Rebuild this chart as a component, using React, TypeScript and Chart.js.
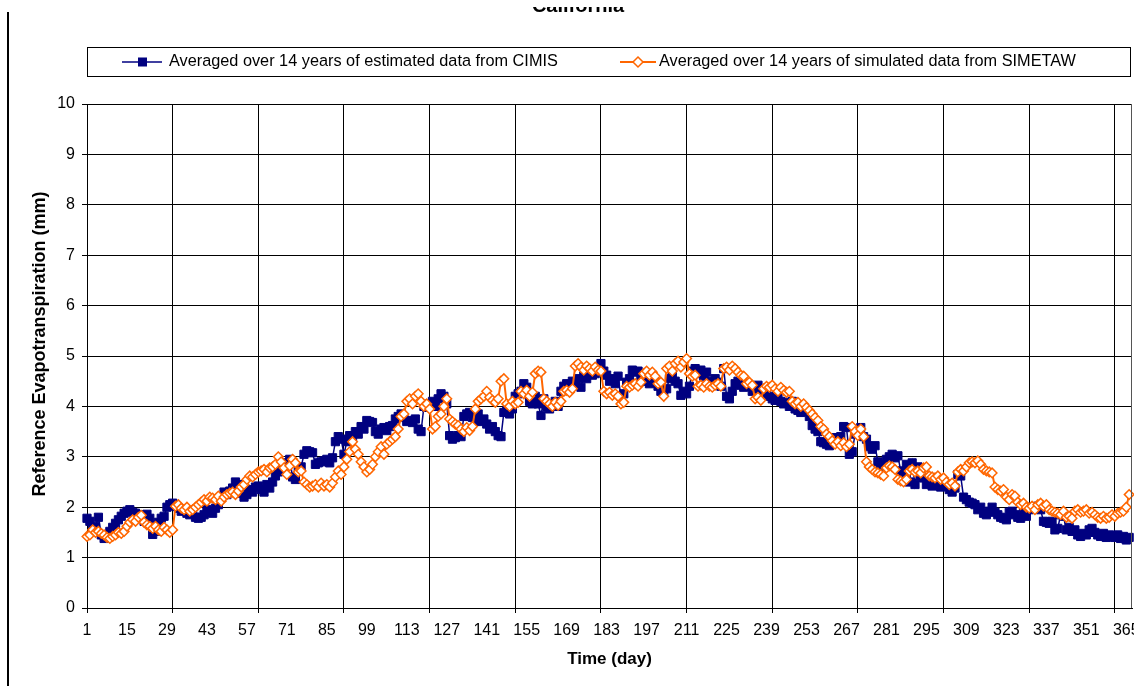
import React, { useEffect, useRef } from 'react';
import { Chart, registerables } from 'chart.js';

Chart.register(...registerables);

const chartTitle = 'California';
const seriesNames = [
  'Averaged over 14 years of estimated data from CIMIS',
  'Averaged over 14 years of simulated data from SIMETAW',
];
const xAxisTitle = 'Time (day)';
const yAxisTitle = 'Reference Evapotranspiration (mm)';

const xLabelTicks = [1, 15, 29, 43, 57, 71, 85, 99, 113, 127, 141, 155, 169, 183, 197, 211, 225, 239, 253, 267, 281, 295, 309, 323, 337, 351, 365];
const xGridTicks = [1, 31, 61, 91, 121, 151, 181, 211, 241, 271, 301, 331, 361];
const yTicks = [0, 1, 2, 3, 4, 5, 6, 7, 8, 9, 10];

const cimis = [
  1.78, 1.72, 1.58, 1.62, 1.80, 1.45, 1.38, 1.42, 1.52, 1.60,
  1.68, 1.75, 1.82, 1.88, 1.92, 1.95, 1.90, 1.88, 1.85, 1.80,
  1.72, 1.86, 1.78, 1.46, 1.52, 1.70, 1.78, 1.82, 2.00, 2.05,
  2.08, 2.02, 1.98, 1.92, 1.95, 1.88, 1.85, 1.90, 1.80, 1.78,
  1.80, 1.85, 1.95, 1.90, 1.88, 1.98, 2.05, 2.20, 2.30, 2.25,
  2.32, 2.38, 2.50, 2.45, 2.28, 2.20, 2.25, 2.35, 2.30, 2.40,
  2.42, 2.35, 2.30, 2.45, 2.38, 2.50, 2.62, 2.70, 2.78, 2.85,
  2.88, 2.95, 2.60, 2.55, 2.72, 2.80, 3.05, 3.12, 3.10, 3.08,
  2.85, 2.88, 2.90, 2.92, 2.95, 2.88, 2.98, 3.30, 3.40, 3.35,
  3.05, 3.30, 3.42, 3.38, 3.50, 3.45, 3.60, 3.55, 3.72, 3.70,
  3.68, 3.50, 3.45, 3.55, 3.58, 3.52, 3.60, 3.62, 3.75, 3.80,
  3.85, 3.78, 3.70, 3.72, 3.68, 3.75, 3.55, 3.50, 4.00, 3.98,
  4.05, 4.10, 4.00, 4.15, 4.25, 4.20, 4.05, 3.42, 3.35, 3.38,
  3.42, 3.40, 3.80, 3.85, 3.88, 3.78, 3.72, 3.85, 3.70, 3.75,
  3.65, 3.55, 3.60, 3.50, 3.42, 3.40, 3.88, 3.92, 3.85, 3.95,
  4.20, 4.25, 4.30, 4.45, 4.38, 4.10, 4.05, 4.20, 4.05, 3.82,
  4.15, 4.00, 3.95, 4.05, 4.10, 4.00, 4.30, 4.40, 4.45, 4.35,
  4.50, 4.42, 4.55, 4.38, 4.60, 4.55, 4.70, 4.62, 4.65, 4.75,
  4.85, 4.70, 4.62, 4.50, 4.55, 4.45, 4.60, 4.20, 4.25, 4.48,
  4.55, 4.72, 4.68, 4.70, 4.60, 4.50, 4.55, 4.45, 4.62, 4.48,
  4.40, 4.30, 4.28, 4.35, 4.55, 4.60, 4.50, 4.45, 4.22, 4.30,
  4.25, 4.40, 4.70, 4.75, 4.65, 4.72, 4.60, 4.68, 4.50, 4.45,
  4.55, 4.48, 4.40, 4.75, 4.20, 4.15, 4.30, 4.45, 4.50, 4.42,
  4.38, 4.45, 4.40, 4.30, 4.35, 4.42, 4.28, 4.32, 4.25, 4.20,
  4.15, 4.12, 4.18, 4.10, 4.05, 4.08, 4.00, 4.10, 3.95, 3.92,
  3.88, 3.95, 3.90, 3.80, 3.62, 3.55, 3.50, 3.30, 3.28, 3.25,
  3.22, 3.35, 3.38, 3.30, 3.40, 3.60, 3.58, 3.05, 3.10, 3.45,
  3.50, 3.58, 3.40, 3.35, 3.20, 3.15, 3.22, 2.90, 2.85, 2.80,
  2.95, 3.00, 3.05, 2.98, 3.02, 2.72, 2.68, 2.85, 2.50, 2.88,
  2.45, 2.80, 2.62, 2.58, 2.45, 2.48, 2.42, 2.50, 2.45, 2.40,
  2.48, 2.42, 2.35, 2.30, 2.38, 2.65, 2.62, 2.20, 2.15, 2.10,
  2.08, 2.05, 1.95, 2.00, 1.88, 1.85, 1.92, 2.00, 1.90, 1.85,
  1.80, 1.78, 1.75, 1.90, 1.92, 1.85, 1.80, 1.78, 1.88, 1.82,
  1.95, 2.00, 1.98, 2.02, 1.95, 1.72, 1.70, 1.68, 1.72, 1.55,
  1.58, 1.85, 1.82, 1.55, 1.60, 1.52, 1.55, 1.45, 1.42, 1.48,
  1.45, 1.55, 1.58, 1.50, 1.45, 1.42, 1.48, 1.40, 1.45, 1.42,
  1.40, 1.45, 1.38, 1.42, 1.35, 1.40,
];

const simetaw = [
  1.42, 1.45, 1.55, 1.50, 1.52, 1.48, 1.45, 1.40, 1.38, 1.42,
  1.45, 1.50, 1.48, 1.52, 1.62, 1.70, 1.75, 1.72, 1.80, 1.84,
  1.70, 1.65, 1.62, 1.58, 1.62, 1.55, 1.52, 1.60, 1.55, 1.50,
  1.55, 2.02, 2.05, 1.98, 1.95, 2.00, 1.92, 1.95, 2.00, 2.05,
  2.10, 2.15, 2.12, 2.20, 2.18, 2.15, 2.22, 2.12, 2.20, 2.25,
  2.28, 2.30, 2.25, 2.32, 2.40, 2.45, 2.55, 2.62, 2.60, 2.65,
  2.70, 2.72, 2.75, 2.70, 2.78, 2.80, 2.85, 3.00, 2.90, 2.78,
  2.65, 2.82, 2.95, 2.88, 2.70, 2.72, 2.50, 2.45, 2.40, 2.42,
  2.45, 2.40, 2.48, 2.42, 2.45, 2.40, 2.48, 2.60, 2.72, 2.65,
  2.80, 2.95, 3.10, 3.30, 3.15, 3.05, 2.90, 2.80, 2.70, 2.75,
  2.85, 3.00, 3.10, 3.20, 3.05, 3.25, 3.30, 3.35, 3.40, 3.55,
  3.80, 3.85, 4.10, 4.15, 4.05, 4.20, 4.25, 4.10, 4.00, 4.05,
  3.95, 3.55, 3.60, 3.80, 3.85, 4.00, 4.15, 3.75, 3.70, 3.65,
  3.62, 3.55, 3.50, 3.58, 3.52, 3.60, 3.95, 4.10, 4.15, 4.20,
  4.30, 4.18, 4.12, 4.08, 4.15, 4.50, 4.55, 4.05, 4.00, 4.10,
  4.05, 4.08, 4.30, 4.25, 4.32, 4.20, 4.28, 4.65, 4.70, 4.68,
  4.15, 4.10, 4.05, 4.00, 4.08, 4.02, 4.10, 4.30, 4.32, 4.28,
  4.35, 4.80, 4.85, 4.78, 4.72, 4.80, 4.75, 4.70, 4.78, 4.72,
  4.70, 4.30, 4.25, 4.28, 4.22, 4.25, 4.20, 4.05, 4.08, 4.40,
  4.38, 4.42, 4.45, 4.40, 4.48, 4.65, 4.70, 4.62, 4.68, 4.60,
  4.45, 4.48, 4.20, 4.75, 4.80, 4.70, 4.85, 4.90, 4.78, 4.88,
  4.95, 4.65, 4.60, 4.62, 4.40, 4.42, 4.38, 4.45, 4.40, 4.38,
  4.42, 4.45, 4.40, 4.75, 4.78, 4.72, 4.80, 4.75, 4.68, 4.62,
  4.60, 4.45, 4.48, 4.42, 4.15, 4.18, 4.12, 4.35, 4.40, 4.38,
  4.42, 4.35, 4.30, 4.38, 4.32, 4.28, 4.30, 4.10, 4.05, 4.08,
  4.00, 4.05, 3.98, 3.92, 3.85, 3.78, 3.72, 3.60, 3.55, 3.45,
  3.40, 3.32, 3.25, 3.30, 3.22, 3.28, 3.20, 3.25, 3.60, 3.50,
  3.42, 3.55, 3.40, 2.90, 2.80, 2.75, 2.70, 2.68, 2.65, 2.62,
  2.78, 2.82, 2.80, 2.75, 2.55, 2.52, 2.50, 2.55, 2.72, 2.75,
  2.70, 2.72, 2.68, 2.78, 2.80, 2.62, 2.60, 2.58, 2.62, 2.55,
  2.58, 2.50, 2.45, 2.48, 2.42, 2.70, 2.75, 2.72, 2.80, 2.88,
  2.90, 2.88, 2.92, 2.85, 2.75, 2.72, 2.70, 2.68, 2.40, 2.35,
  2.32, 2.35, 2.20, 2.15, 2.25, 2.22, 2.10, 2.05, 2.08, 2.00,
  1.98, 2.02, 1.95, 2.05, 2.08, 2.02, 2.05, 1.95, 1.92, 1.90,
  1.88, 1.85, 1.92, 1.80, 1.82, 1.78, 1.92, 1.95, 1.90, 1.92,
  1.95, 1.88, 1.90, 1.85, 1.80, 1.78, 1.82, 1.78, 1.80, 1.85,
  1.82, 1.88, 1.90, 1.92, 2.00, 2.25,
];

const days = cimis.map((_, i) => i + 1);

const FONT = "'Liberation Sans', Arial, sans-serif";
const NAVY = '#000080';
const ORANGE = '#FF6600';

const labelSet = new Set(xLabelTicks);
const gridSet = new Set(xGridTicks);
const xAllTicks = Array.from(new Set([...xLabelTicks, ...xGridTicks])).sort((a, b) => a - b);

const framePlugin = {
  id: 'frameAndLegend',
  afterDraw(chart: any) {
    const ctx = chart.ctx as CanvasRenderingContext2D;
    const ca = chart.chartArea;
    ctx.save();
    // outer left frame line
    ctx.fillStyle = '#000';
    ctx.fillRect(7, 12, 2, 674);
    // right border of plot area
    ctx.strokeStyle = '#555';
    ctx.lineWidth = 1;
    ctx.beginPath();
    ctx.moveTo(Math.round(ca.right) - 0.5, ca.top);
    ctx.lineTo(Math.round(ca.right) - 0.5, ca.bottom);
    ctx.stroke();

    // title (cut at the top like the source)
    ctx.save();
    ctx.beginPath();
    ctx.rect(0, 7, chart.width, 20);
    ctx.clip();
    ctx.fillStyle = '#000';
    ctx.font = `bold 20px ${FONT}`;
    ctx.textAlign = 'center';
    ctx.textBaseline = 'alphabetic';
    ctx.fillText(chartTitle, 578, 12);
    ctx.restore();

    // y axis title
    ctx.save();
    ctx.translate(40, 344);
    ctx.rotate(-Math.PI / 2);
    ctx.fillStyle = '#000';
    ctx.font = `bold 18px ${FONT}`;
    ctx.textAlign = 'center';
    ctx.textBaseline = 'middle';
    ctx.fillText(yAxisTitle, 0, 0);
    ctx.restore();

    // legend box
    ctx.strokeStyle = '#000';
    ctx.lineWidth = 1;
    ctx.strokeRect(87.5, 47.5, 1043, 29);
    const cy = 62;
    ctx.font = `16.3px ${FONT}`;
    ctx.textAlign = 'left';
    ctx.textBaseline = 'middle';

    // item 1
    ctx.strokeStyle = NAVY;
    ctx.lineWidth = 1.5;
    ctx.beginPath();
    ctx.moveTo(122, cy);
    ctx.lineTo(162, cy);
    ctx.stroke();
    ctx.fillStyle = NAVY;
    ctx.fillRect(138, cy - 4.5, 9, 9);
    ctx.fillStyle = '#000';
    ctx.fillText(seriesNames[0], 169, cy);

    // item 2
    ctx.strokeStyle = ORANGE;
    ctx.lineWidth = 2;
    ctx.beginPath();
    ctx.moveTo(620, cy);
    ctx.lineTo(656, cy);
    ctx.stroke();
    ctx.fillStyle = '#fff';
    ctx.lineWidth = 1.5;
    ctx.beginPath();
    ctx.moveTo(638, cy - 5);
    ctx.lineTo(643, cy);
    ctx.lineTo(638, cy + 5);
    ctx.lineTo(633, cy);
    ctx.closePath();
    ctx.fill();
    ctx.stroke();
    ctx.fillStyle = '#000';
    ctx.fillText(seriesNames[1], 659, cy);
    ctx.restore();
  },
};

export default function App() {
  const ref = useRef<HTMLCanvasElement>(null);

  useEffect(() => {
    if (!ref.current) return;
    const chart = new Chart(ref.current, {
      type: 'line',
      data: {
        datasets: [
          {
            label: seriesNames[0],
            data: days.map((d, i) => ({ x: d, y: cimis[i] })),
            borderColor: NAVY,
            backgroundColor: NAVY,
            borderWidth: 1.5,
            pointStyle: 'rect',
            pointRadius: 5.8,
            pointBackgroundColor: NAVY,
            pointBorderColor: NAVY,
            pointBorderWidth: 1,
            clip: false,
            order: 1,
          },
          {
            label: seriesNames[1],
            data: days.map((d, i) => ({ x: d, y: simetaw[i] })),
            borderColor: ORANGE,
            backgroundColor: '#fff',
            borderWidth: 2,
            pointStyle: 'rectRot',
            pointRadius: 4.8,
            pointBackgroundColor: '#fff',
            pointBorderColor: ORANGE,
            pointBorderWidth: 1.5,
            clip: false,
            order: 0,
          },
        ],
      },
      options: {
        responsive: false,
        animation: false,
        devicePixelRatio: 1,
        layout: { autoPadding: false, padding: { left: 0, top: 104, right: 2, bottom: 0 } },
        plugins: {
          legend: { display: false },
          title: { display: false },
          tooltip: { enabled: false },
        },
        scales: {
          x: {
            type: 'linear',
            min: 1,
            max: 367,
            afterBuildTicks: (axis: any) => {
              axis.ticks = xAllTicks.map((v) => ({ value: v }));
            },
            afterFit: (scale: any) => {
              scale.height = 78;
              scale.paddingLeft = 0;
              scale.paddingRight = 0;
            },
            ticks: {
              autoSkip: false,
              maxRotation: 0,
              minRotation: 0,
              padding: 8,
              color: '#000',
              font: { family: FONT, size: 16 },
              callback: (v: any) => (labelSet.has(v) ? String(v) : ''),
            },
            grid: {
              color: (c: any) => (c.tick && gridSet.has(c.tick.value) ? '#000' : 'rgba(0,0,0,0)'),
              tickColor: (c: any) => (c.tick && gridSet.has(c.tick.value) ? '#000' : 'rgba(0,0,0,0)'),
              tickLength: 5,
              lineWidth: 1,
            },
            border: { display: true, color: '#000', width: 1 },
            title: {
              display: true,
              text: xAxisTitle,
              color: '#000',
              font: { family: FONT, size: 17, weight: 'bold' },
              padding: { top: 0, bottom: 16 },
            },
          },
          y: {
            type: 'linear',
            min: 0,
            max: 10,
            afterBuildTicks: (axis: any) => {
              axis.ticks = yTicks.map((v) => ({ value: v }));
            },
            afterFit: (scale: any) => {
              scale.width = 87;
              scale.paddingTop = 0;
              scale.paddingBottom = 0;
            },
            ticks: {
              padding: 7,
              color: '#000',
              font: { family: FONT, size: 16 },
            },
            grid: { color: '#000', tickColor: '#000', tickLength: 5, lineWidth: 1 },
            border: { display: true, color: '#000', width: 1 },
            title: { display: false },
          },
        },
      },
      plugins: [framePlugin],
    });
    return () => chart.destroy();
  }, []);

  return (
    <div style={{ position: 'absolute', left: 0, top: 0, width: 1134, height: 686, background: '#fff' }}>
      <canvas ref={ref} width={1134} height={686} style={{ display: 'block' }} />
    </div>
  );
}
